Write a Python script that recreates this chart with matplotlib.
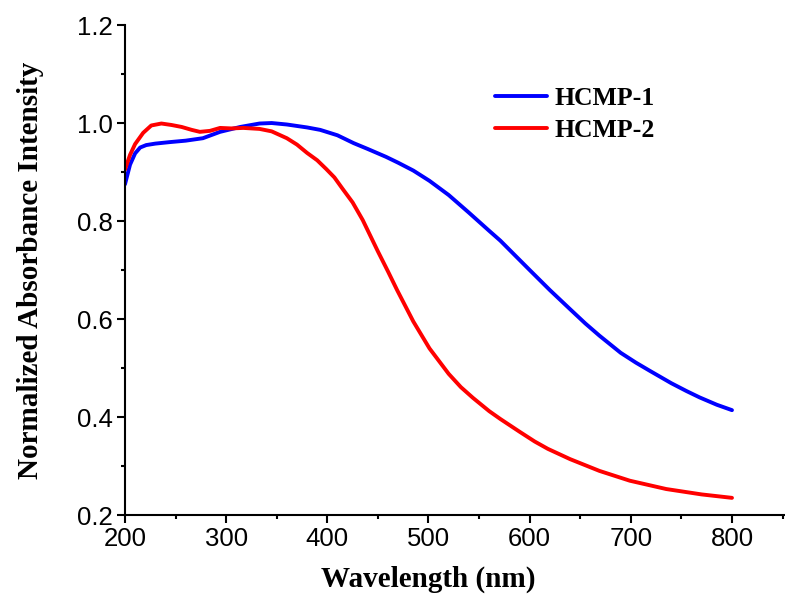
import matplotlib
matplotlib.use("Agg")
import matplotlib.pyplot as plt
from matplotlib.ticker import MultipleLocator

# HCMP-1 (blue)
wl1 = [200, 205, 210, 215, 221, 230, 244, 260, 277, 294, 314, 333, 345, 360,
       380, 393, 410, 426, 440, 458, 470, 485, 501, 520, 540, 560, 571, 585,
       600, 620, 640, 655, 669, 690, 705, 719, 740, 755, 768, 785, 800]
abs1 = [0.875, 0.915, 0.938, 0.950, 0.955, 0.958, 0.961, 0.964, 0.969, 0.982,
        0.992, 0.999, 1.000, 0.997, 0.991, 0.986, 0.975, 0.959, 0.947, 0.931,
        0.919, 0.903, 0.882, 0.853, 0.817, 0.780, 0.760, 0.731, 0.700, 0.659,
        0.620, 0.591, 0.566, 0.531, 0.511, 0.494, 0.469, 0.453, 0.440, 0.425,
        0.414]

# HCMP-2 (red)
wl2 = [200, 205, 210, 218, 226, 236, 246, 256, 266, 274, 284, 294, 305, 317,
       333, 345, 360, 370, 380, 390, 399, 407, 415, 425, 435, 450, 460, 469,
       485, 501, 520, 532, 544, 560, 571, 590, 605, 618, 640, 669, 699, 735,
       770, 800]
abs2 = [0.905, 0.935, 0.957, 0.980, 0.995, 0.999, 0.996, 0.992, 0.986, 0.982,
        0.984, 0.990, 0.989, 0.990, 0.988, 0.983, 0.969, 0.956, 0.939, 0.924,
        0.906, 0.889, 0.866, 0.838, 0.802, 0.738, 0.697, 0.659, 0.595, 0.540,
        0.488, 0.461, 0.439, 0.412, 0.396, 0.370, 0.350, 0.335, 0.314, 0.290,
        0.270, 0.253, 0.242, 0.235]

labels = ["HCMP-1", "HCMP-2"]
colors = ["#0000ff", "#ff0000"]
yticks = [0.2, 0.4, 0.6, 0.8, 1.0, 1.2]
ytick_labels = ["0.2", "0.4", "0.6", "0.8", "1.0", "1.2"]

fig = plt.figure(figsize=(7.85, 5.96), dpi=100)
ax = fig.add_axes([0.1592, 0.1359, 0.8408, 0.8221])

ax.plot(wl1, abs1, color=colors[0], lw=2.8, label=labels[0], solid_capstyle='round')
ax.plot(wl2, abs2, color=colors[1], lw=2.8, label=labels[1], solid_capstyle='round')

xmin, xmax = 200, 852.4
ax.set_xlim(xmin, xmax)
ax.set_ylim(0.2, 1.2)
ax.xaxis.set_major_locator(MultipleLocator(100))
ax.xaxis.set_minor_locator(MultipleLocator(50))
ax.yaxis.set_minor_locator(MultipleLocator(0.1))
ax.set_yticks(yticks)
ax.set_yticklabels(ytick_labels)

for s in ["top", "right"]:
    ax.spines[s].set_visible(False)
for s in ["left", "bottom"]:
    ax.spines[s].set_linewidth(1.5)

ax.tick_params(which="major", direction="out", length=5.5, width=1.5,
               labelsize=18.5, pad=3)
ax.tick_params(which="minor", direction="out", length=3, width=1.5)
for lab in ax.get_xticklabels() + ax.get_yticklabels():
    lab.set_fontfamily("Liberation Sans")

serif_bold = dict(family="Liberation Serif", weight="bold", size=21)
ax.set_xlabel("Wavelength (nm)", fontdict=serif_bold, labelpad=11)
ax.xaxis.label.set_x((500 - xmin) / (xmax - xmin))
ax.set_ylabel("Normalized Absorbance Intensity", fontdict=serif_bold, labelpad=24)

ax.legend(loc="upper left", bbox_to_anchor=(0.525, 0.92), frameon=False,
          prop=dict(family="Liberation Serif", weight="bold", size=18.5),
          handlelength=2.05, handletextpad=0.3, labelspacing=0.33)

fig.savefig("out.png", dpi=100)
